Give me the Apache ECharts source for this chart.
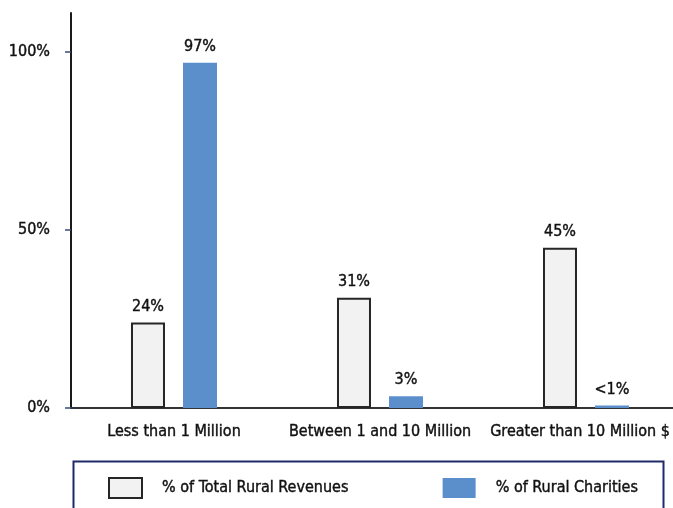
<!DOCTYPE html>
<html>
<head>
<meta charset="utf-8">
<script src="https://cdn.jsdelivr.net/npm/echarts@6/dist/echarts.min.js"></script>
<style>
  html, body { margin: 0; padding: 0; background: #fff; }
  #chart { width: 673px; height: 508px; }
</style>
</head>
<body>
<div id="chart"></div>
<script>
// revenue size groups
var categories = ['Less than 1 Million', 'Between 1 and 10 Million', 'Greater than 10 Million $'];
var revenueShare = [24, 31, 45];
var charityShare = [97, 3.3, 0.7];
var charityLabels = ['97%', '3%', '<1%'];
var yTicks = [0, 50, 100];

var font = "'Liberation Sans Narrow', 'DejaVu Sans Condensed', Arial, sans-serif";
var txt = { fontFamily: font, fontSize: 16, color: '#111', textBorderColor: '#111', textBorderWidth: 0.4 };

var chart = echarts.init(document.getElementById('chart'));
chart.setOption({
    animation: false,
    grid: {
        left: 71,
        top: 13,
        width: 618,
        height: 395,
        outerBoundsMode: 'none'
    },
    // legend frame, runs off the bottom of the picture
    graphic: [{
        type: 'rect',
        left: 71,
        top: 459,
        shape: { width: 590, height: 70 },
        style: { fill: null, stroke: '#1f2a6b', lineWidth: 2 },
        silent: true
    }],
    legend: {
        left: 108,
        top: 477,
        padding: 0,
        itemWidth: 33,
        itemHeight: 20,
        itemGap: 94,
        textStyle: Object.assign({ padding: [0, 0, 0, 15] }, txt),
        data: [
            { name: '% of Total Rural Revenues', icon: 'rect', itemStyle: { color: '#f2f2f2', borderColor: '#262626', borderWidth: 2 } },
            { name: '% of Rural Charities', icon: 'rect' }
        ]
    },
    xAxis: {
        type: 'category',
        data: categories,
        axisLine: { lineStyle: { color: '#333', width: 2 } },
        axisTick: { show: false },
        axisLabel: Object.assign({
            interval: 0,
            margin: 16,
            formatter: function (v, i) { return i === 2 ? '{last|' + v + '}' : v; },
            rich: { last: Object.assign({ padding: [0, 12, 0, 0] }, txt) }
        }, txt)
    },
    yAxis: {
        type: 'value',
        min: 0,
        max: 111,
        interval: 50,
        splitLine: { show: false },
        axisLine: { show: true, lineStyle: { color: '#1a1a1a', width: 2 } },
        axisTick: { show: true, length: 6, lineStyle: { color: '#3a4a7a', width: 1.5 } },
        axisLabel: Object.assign({
            margin: 21,
            showMaxLabel: false,
            formatter: function (v) { return yTicks.indexOf(v) >= 0 ? v + '%' : ''; }
        }, txt)
    },
    series: [
        {
            name: '% of Total Rural Revenues',
            type: 'bar',
            barWidth: 34,
            barGap: '53%',
            data: revenueShare,
            itemStyle: { color: '#f2f2f2', borderColor: '#262626', borderWidth: 2 },
            label: Object.assign({ show: true, position: 'top', distance: 8, formatter: '{c}%' }, txt)
        },
        {
            name: '% of Rural Charities',
            type: 'bar',
            barWidth: 34,
            data: charityShare,
            itemStyle: { color: '#5b8fcc' },
            label: Object.assign({
                show: true, position: 'top', distance: 8,
                formatter: function (p) { return charityLabels[p.dataIndex]; }
            }, txt)
        }
    ]
});
</script>
</body>
</html>
